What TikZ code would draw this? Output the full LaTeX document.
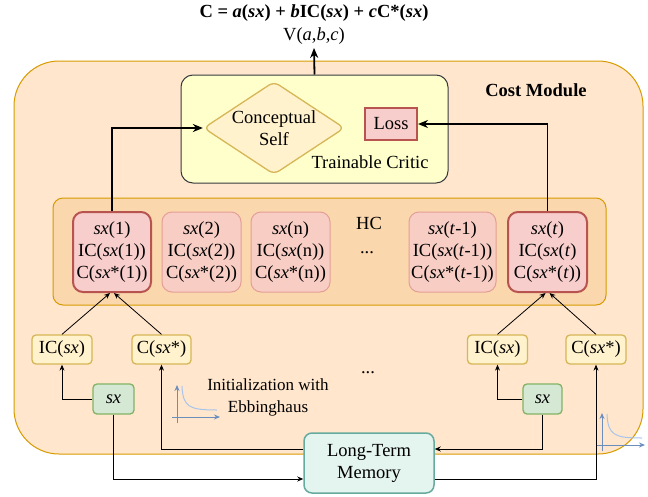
\documentclass[tikz,border=0pt]{standalone}
\usepackage{fontspec}
\setmainfont{Liberation Serif}
\usetikzlibrary{shapes.geometric,arrows.meta}

\definecolor{costfill}{HTML}{FFE6CC}
\definecolor{costdraw}{HTML}{D79B00}
\definecolor{hcfill}{HTML}{FAD7AC}
\definecolor{critfill}{HTML}{FFFFCC}
\definecolor{critdraw}{HTML}{36393D}
\definecolor{yfill}{HTML}{FFF2CC}
\definecolor{ydraw}{HTML}{D6B656}
\definecolor{rfill}{HTML}{F8CECC}
\definecolor{rdraw}{HTML}{B85450}
\definecolor{softfill}{HTML}{F7CDC4}
\definecolor{softdraw}{HTML}{E49E97}
\definecolor{gfill}{HTML}{D5E8D4}
\definecolor{gdraw}{HTML}{82B366}
\definecolor{tfill}{HTML}{E4F4EF}
\definecolor{tdraw}{HTML}{67AB9F}
\definecolor{axisblue}{HTML}{6C8EBF}
\definecolor{curveblue}{HTML}{A9C4EB}

\tikzset{
  txt/.style={font=\fontsize{18.5}{22}\selectfont, align=center},
  bigarrow/.style={line width=1.8pt, -{Stealth[length=10pt,width=8pt]}},
  thinarrow/.style={line width=0.8pt, -{Stealth[length=6pt,width=5pt]}},
  cell/.style={txt, rounded corners=10pt, minimum height=80pt, inner sep=0pt},
  keycell/.style={cell, fill=rfill, draw=rdraw, line width=2pt},
  softcell/.style={cell, fill=softfill, draw=softdraw, line width=1pt},
  ybox/.style={txt, fill=yfill, draw=ydraw, line width=1.3pt, rounded corners=4pt,
    minimum height=29pt, inner sep=0pt},
  gbox/.style={txt, fill=gfill, draw=gdraw, line width=1.3pt, rounded corners=4pt,
    minimum height=30pt, inner sep=0pt}
}

\begin{document}
\begin{tikzpicture}[x=1pt, y=-1pt, every node/.style={txt}]
  \useasboundingbox (0,0) rectangle (648,496);

  % modulo dei costi
  \draw[fill=costfill, draw=costdraw, line width=1pt, rounded corners=45pt] (14,61) rectangle (643,454);
  \node[font=\bfseries\fontsize{18.5}{22}\selectfont] (costlbl) at (536,90) {Cost Module};

  % formula in alto
  \node (formula) at (314,13) {\textbf{C = \textit{a}(\textit{sx}) + \textit{b}IC(\textit{sx}) + \textit{c}C*(\textit{sx})}};
  \node (vabc) at (314,36) {V(\textit{a},\textit{b},\textit{c})};

  % critico addestrabile
  \node[draw=critdraw, fill=critfill, line width=1pt, rounded corners=12pt,
    minimum width=267pt, minimum height=108pt] (critic) at (314.5,129) {};
  \node[diamond, aspect=1.5, draw=ydraw, fill=yfill, line width=1.3pt, rounded corners=6pt,
    inner sep=0pt, minimum width=141pt, minimum height=93pt] (cself) at (274,128) {Conceptual\\Self};
  \node[draw=rdraw, fill=rfill, line width=2pt, minimum width=52pt, minimum height=32pt,
    inner sep=0pt] (loss) at (391,124) {Loss};
  \node (trainlbl) at (370,162) {Trainable Critic};

  % memoria HC
  \node[draw=costdraw, fill=hcfill, line width=1pt, rounded corners=10pt,
    minimum width=553pt, minimum height=107pt] (hc) at (329.5,251.5) {};
  \node (hclbl) at (369,223) {HC};
  \node (hcdots) at (367,253) {...};

  \node[keycell, minimum width=78pt] (cell1) at (112,252)
    {\textit{sx}(1)\\IC(\textit{sx}(1))\\C(\textit{sx}*(1))};
  \node[softcell, minimum width=79pt] (cell2) at (201.5,252)
    {\textit{sx}(2)\\IC(\textit{sx}(2))\\C(\textit{sx}*(2))};
  \node[softcell, minimum width=79pt] (celln) at (290.5,252)
    {\textit{sx}(n)\\IC(\textit{sx}(n))\\C(\textit{sx}*(n))};
  \node[softcell, minimum width=87pt] (celltm) at (452.5,252)
    {\textit{sx}(\textit{t}-1)\\IC(\textit{sx}(\textit{t}-1))\\C(\textit{sx}*(\textit{t}-1))};
  \node[keycell, minimum width=79pt] (cellt) at (547.5,252)
    {\textit{sx}(\textit{t})\\IC(\textit{sx}(\textit{t})\\C(\textit{sx}*(\textit{t}))};

  % IC e C
  \node[ybox, minimum width=60pt] (icl) at (62,349.5) {IC(\textit{sx})};
  \node[ybox, minimum width=59pt] (cl) at (161.5,349.5) {C(\textit{sx}*)};
  \node[ybox, minimum width=60pt] (icr) at (497.5,349.5) {IC(\textit{sx})};
  \node[ybox, minimum width=60pt] (cr) at (596,349.5) {C(\textit{sx}*)};

  % ingressi sx
  \node[gbox, minimum width=41pt] (sxl) at (113.5,399) {\textit{sx}};
  \node[gbox, minimum width=39pt] (sxr) at (542.5,399) {\textit{sx}};
  \node (lowdots) at (368,373) {...};
  \node[font=\fontsize{17}{22}\selectfont] (initlbl) at (268,397) {Initialization with\\Ebbinghaus};

  % memoria a lungo termine
  \node[draw=tdraw, fill=tfill, line width=1.5pt, rounded corners=8pt,
    minimum width=130pt, minimum height=60pt] (ltm) at (369,463) {Long-Term\\Memory};

  % curve di Ebbinghaus
  \foreach \ox/\oy in {177/417, 602/445} {
    \draw[axisblue, line width=0.9pt, -{Stealth[length=6pt,width=5pt]}] (\ox,\oy+6) -- (\ox,\oy-32);
    \draw[axisblue, line width=0.9pt, -{Stealth[length=6pt,width=5pt]}] (\ox-5,\oy) -- (\ox+43,\oy);
    \draw[curveblue, line width=1pt] (\ox+5,\oy-31) .. controls (\ox+6,\oy-10) and (\ox+12,\oy-7) .. (\ox+40,\oy-7);
  }

  % frecce superiori
  \draw[bigarrow] (critic.north) -- (vabc.south);
  \draw[bigarrow] (cell1.north) |- (cself.west);
  \draw[bigarrow] (cellt.north) |- (loss.east);

  % frecce inferiori
  \draw[thinarrow] (icl.north) -- ([xshift=-2pt]cell1.south);
  \draw[thinarrow] (cl.north) -- ([xshift=2pt]cell1.south);
  \draw[thinarrow] (icr.north) -- ([xshift=-2pt]cellt.south);
  \draw[thinarrow] (cr.north) -- ([xshift=2pt]cellt.south);
  \draw[thinarrow] (sxl.west) -| (icl.south);
  \draw[thinarrow] (sxr.west) -| (icr.south);
  \draw[thinarrow] (sxl.south) |- ([yshift=-16pt]ltm.west);
  \draw[thinarrow] ([yshift=14pt]ltm.west) -| (cl.south);
  \draw[thinarrow] (sxr.south) |- ([yshift=14pt]ltm.east);
  \draw[thinarrow] ([yshift=-16pt]ltm.east) -| (cr.south);
\end{tikzpicture}
\end{document}
